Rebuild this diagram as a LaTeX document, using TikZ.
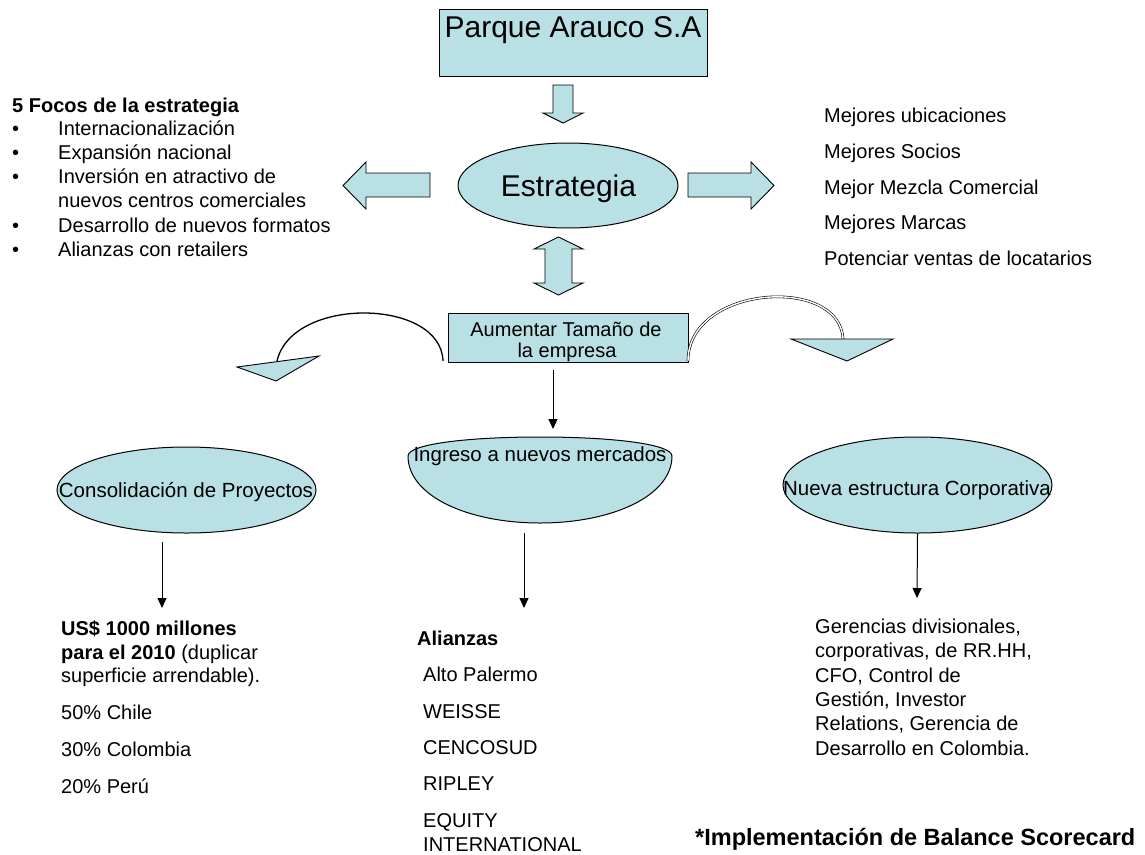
\documentclass[tikz,border=0pt]{standalone}
\usepackage{fontspec}
\setmainfont{Liberation Sans}
\usetikzlibrary{arrows.meta,shapes.geometric}
\definecolor{fillc}{RGB}{185,224,228}
\tikzset{
  boxs/.style={draw=black, fill=fillc, line width=1, inner sep=0},
  ells/.style={ellipse, draw=black, fill=fillc, line width=1, inner sep=0},
  blk/.style={draw=black, fill=fillc, line width=0.9, line join=miter},
  tl/.style={anchor=base west, inner sep=0, font=\fontsize{20}{24}\selectfont},
  tc/.style={anchor=base, inner sep=0, font=\fontsize{20.5}{24}\selectfont},
  arr/.style={draw=black, line width=1, -{Triangle[length=10pt,width=9pt]}},
}
\begin{document}
\begin{tikzpicture}[x=1pt,y=-1pt]
\useasboundingbox (0,0) rectangle (1145,854);

% top box
\node[boxs, minimum width=268, minimum height=67] (parque) at (573,42.5) {};
\node[anchor=base, inner sep=0, font=\fontsize{30}{34}\selectfont] (ptxt) at (573,37) {Parque Arauco S.A};

% block arrow down
\draw[blk] (553,85) -- (573,85) -- (573,113) -- (583,113) -- (563,123) -- (543,113) -- (553,113) -- cycle;

% Estrategia
\node[ells, minimum width=220, minimum height=85] (estr) at (568,185.5) {};
\node[anchor=base, inner sep=0, font=\fontsize{30}{34}\selectfont] (etxt) at (568.5,196) {Estrategia};

% left and right block arrows
\draw[blk] (430,173) -- (366,173) -- (366,162) -- (343,185.5) -- (366,209) -- (366,197) -- (430,197) -- cycle;
\draw[blk] (688,173) -- (751,173) -- (751,162) -- (774,185.5) -- (751,209) -- (751,197) -- (688,197) -- cycle;

% double block arrow
\draw[blk] (545,249) -- (534,249) -- (558.5,237) -- (583,249) -- (572,249) -- (572,283) -- (583,283) -- (558.5,295) -- (534,283) -- (545,283) -- cycle;

% left list
\node[tl, font=\fontsize{20}{24}\selectfont\bfseries] (focos) at (12,112) {5 Focos de la estrategia};
\node[tl] (b1) at (12,135) {•};
\node[tl] (f1) at (58,135) {Internacionalización};
\node[tl] (b2) at (12,159) {•};
\node[tl] (f2) at (58,159) {Expansión nacional};
\node[tl] (b3) at (12,183) {•};
\node[tl] (f3) at (58,183) {Inversión en atractivo de};
\node[tl] (f3b) at (58,207) {nuevos centros comerciales};
\node[tl] (b4) at (12,232) {•};
\node[tl] (f4) at (58,232) {Desarrollo de nuevos formatos};
\node[tl] (b5) at (12,256) {•};
\node[tl] (f5) at (58,256) {Alianzas con retailers};

% right list
\node[tl] (m1) at (824,122) {Mejores ubicaciones};
\node[tl] (m2) at (824,158) {Mejores Socios};
\node[tl] (m3) at (824,194) {Mejor Mezcla Comercial};
\node[tl] (m4) at (824,229) {Mejores Marcas};
\node[tl] (m5) at (824,265) {Potenciar ventas de locatarios};

% Aumentar box
\node[boxs, minimum width=240, minimum height=49] (aum) at (568,337.5) {};
\node[anchor=base, inner sep=0, font=\fontsize{20}{24}\selectfont] (aum1) at (566,336) {Aumentar Tamaño de};
\node[anchor=base, inner sep=0, font=\fontsize{20}{24}\selectfont] (aum2) at (567,357) {la empresa};

% curved arrows
\coordinate (lcs) at (443,361);
\coordinate (lce) at (277,361);
\draw[black, line width=1.3] (lcs) .. controls (441,298) and (292,296) .. (lce);
\draw[blk] (237,367) -- (319,356) -- (276,381) -- cycle;
\coordinate (rcs) at (688,361);
\coordinate (rce) at (843,339);
\draw[black, line width=0.6, double=white, double distance=1.4pt] (rcs) .. controls (688,285) and (840,275) .. (rce);
\draw[blk] (791,339) -- (893,339) -- (847,361) -- cycle;

% central arrow
\coordinate (a0s) at (553,370);
\coordinate (a0e) at (553,429);
\draw[arr] (a0s) -- (a0e);

% three ellipses
\node[ells, minimum width=259, minimum height=86] (cons) at (186.5,490) {};
\node[tc] (constxt) at (186,497) {Consolidación de Proyectos};
\coordinate (ingl) at (408,456);
\coordinate (ingr) at (672,456);
\coordinate (ingt) at (540,437);
\coordinate (ingb) at (540,523);
\draw[draw=black, fill=fillc, line width=1]
  (ingl) .. controls (408,444) and (468,437) .. (ingt)
  .. controls (612,437) and (672,444) .. (ingr)
  .. controls (672,496) and (612,523) .. (ingb)
  .. controls (468,523) and (408,496) .. (ingl) -- cycle;
\node[tc] (ingrtxt) at (540,461) {Ingreso a nuevos mercados};
\node[ells, minimum width=269, minimum height=96] (nuev) at (917.5,485) {};
\node[tc] (nuevtxt) at (917,495) {Nueva estructura Corporativa};

% arrows below ellipses
\coordinate (a1s) at (162,542);
\coordinate (a1e) at (162,608);
\draw[arr] (a1s) -- (a1e);
\coordinate (a2s) at (524,533);
\coordinate (a2e) at (524,608);
\draw[arr] (a2s) -- (a2e);
\coordinate (a3e) at (917,598);
\draw[arr] (nuev.south) -- (a3e);

% bottom left text
\node[tl, font=\fontsize{20}{24}\selectfont\bfseries] (u1) at (61,635) {US\$ 1000 millones};
\node[tl] (u2) at (61,659) {\textbf{para el 2010} (duplicar};
\node[tl] (u3) at (61,682) {superficie arrendable).};
\node[tl] (u4) at (61,719) {50\% Chile};
\node[tl] (u5) at (61,756) {30\% Colombia};
\node[tl] (u6) at (61,793) {20\% Perú};

% bottom middle text
\node[tl, font=\fontsize{20}{24}\selectfont\bfseries] (al0) at (417,645) {Alianzas};
\node[tl] (al1) at (423,681) {Alto Palermo};
\node[tl] (al2) at (423,718) {WEISSE};
\node[tl] (al3) at (423,754) {CENCOSUD};
\node[tl] (al4) at (423,790) {RIPLEY};
\node[tl] (al5) at (423,827) {EQUITY};
\node[tl] (al6) at (423,851) {INTERNATIONAL};

% bottom right text
\node[tl] (g1) at (815,633) {Gerencias divisionales,};
\node[tl] (g2) at (815,657) {corporativas, de RR.HH,};
\node[tl] (g3) at (815,682) {CFO, Control de};
\node[tl] (g4) at (815,706) {Gestión, Investor};
\node[tl] (g5) at (815,730) {Relations, Gerencia de};
\node[tl] (g6) at (815,755) {Desarrollo en Colombia.};

\node[anchor=base west, inner sep=0, font=\fontsize{23.5}{26}\selectfont\bfseries] (impl) at (695,845) {*Implementación de Balance Scorecard};
\end{tikzpicture}
\end{document}
